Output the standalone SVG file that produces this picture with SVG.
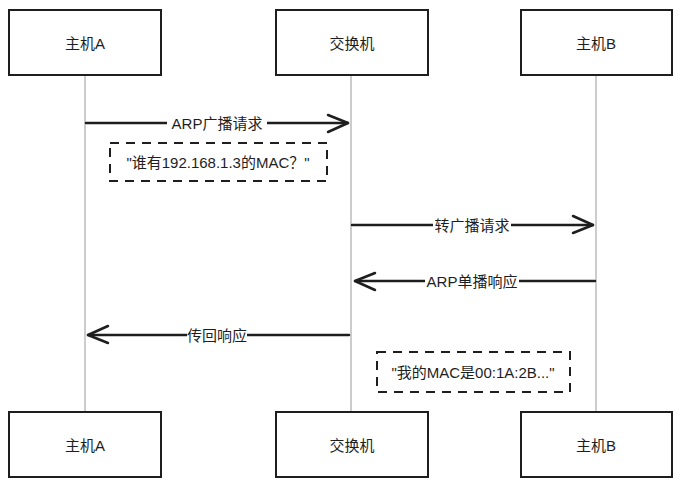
<svg xmlns="http://www.w3.org/2000/svg" width="680" height="488" viewBox="0 0 680 488">
<style>
.box{fill:#fff;stroke:#1e1e1e;stroke-width:2}
.life{stroke:#aaa;stroke-width:1.2}
.t{font-family:"Liberation Sans","Noto Sans CJK SC",sans-serif;font-size:15px;fill:#1e1e1e;text-anchor:middle;dominant-baseline:central}
.lt{font-family:"Liberation Sans","Noto Sans CJK SC",sans-serif;font-size:15px;fill:#1e1e1e;text-anchor:middle;dominant-baseline:central}
.msg{stroke:#1e1e1e;stroke-width:2.5;fill:none;stroke-linecap:round}
.head{stroke:#1e1e1e;stroke-width:2.5;fill:none;stroke-linecap:round;stroke-linejoin:round}
.bg{fill:#fff}
.note{fill:#fff;stroke:#1e1e1e;stroke-width:2;stroke-dasharray:9 7}
</style>
<rect width="680" height="488" fill="#fff"/>
<g id="lifelines">
<line class="life" x1="85" y1="75" x2="85" y2="412"/>
<line class="life" x1="351" y1="75" x2="351" y2="412"/>
<line class="life" x1="596" y1="75" x2="596" y2="412"/>
</g>
<g id="hostA-top"><rect class="box" x="9" y="10" width="152" height="65"/><text class="t" x="85" y="43">主机A</text></g>
<g id="switch-top"><rect class="box" x="276" y="10" width="152" height="65"/><text class="t" x="352" y="43">交换机</text></g>
<g id="hostB-top"><rect class="box" x="521" y="10" width="151" height="65"/><text class="t" x="596" y="43">主机B</text></g>
<g id="hostA-bottom"><rect class="box" x="9" y="412" width="152" height="65"/><text class="t" x="85" y="445">主机A</text></g>
<g id="switch-bottom"><rect class="box" x="276" y="412" width="152" height="65"/><text class="t" x="352" y="445">交换机</text></g>
<g id="hostB-bottom"><rect class="box" x="521" y="412" width="151" height="65"/><text class="t" x="596" y="445">主机B</text></g>
<g id="connectors">
<line class="msg" x1="86" y1="123" x2="348" y2="123"/>
<polyline class="head" points="328,115 348,123 328,132"/>
<rect class="bg" x="167" y="114" width="100" height="18"/>
<text class="lt" x="217" y="123">ARP广播请求</text>

<line class="msg" x1="352" y1="225" x2="593" y2="225"/>
<polyline class="head" points="573,216 593,225 573,233"/>
<rect class="bg" x="433" y="216" width="78" height="18"/>
<text class="lt" x="472" y="225">转广播请求</text>

<line class="msg" x1="595" y1="281" x2="355" y2="281"/>
<polyline class="head" points="375,273 355,281 375,290"/>
<rect class="bg" x="425" y="272" width="94" height="18"/>
<text class="lt" x="472" y="281">ARP单播响应</text>

<line class="msg" x1="349" y1="335" x2="88" y2="335"/>
<polyline class="head" points="108,326 88,335 108,343"/>
<rect class="bg" x="187" y="326" width="60" height="18"/>
<text class="lt" x="217" y="335">传回响应</text>
</g>
<g id="note1"><rect class="note" x="110" y="143" width="217" height="38"/><text class="lt" x="218" y="162">"谁有192.168.1.3的MAC？"</text></g>
<g id="note2"><rect class="note" x="377" y="352" width="193" height="40"/><text class="lt" x="473" y="372">"我的MAC是00:1A:2B..."</text></g>
</svg>
